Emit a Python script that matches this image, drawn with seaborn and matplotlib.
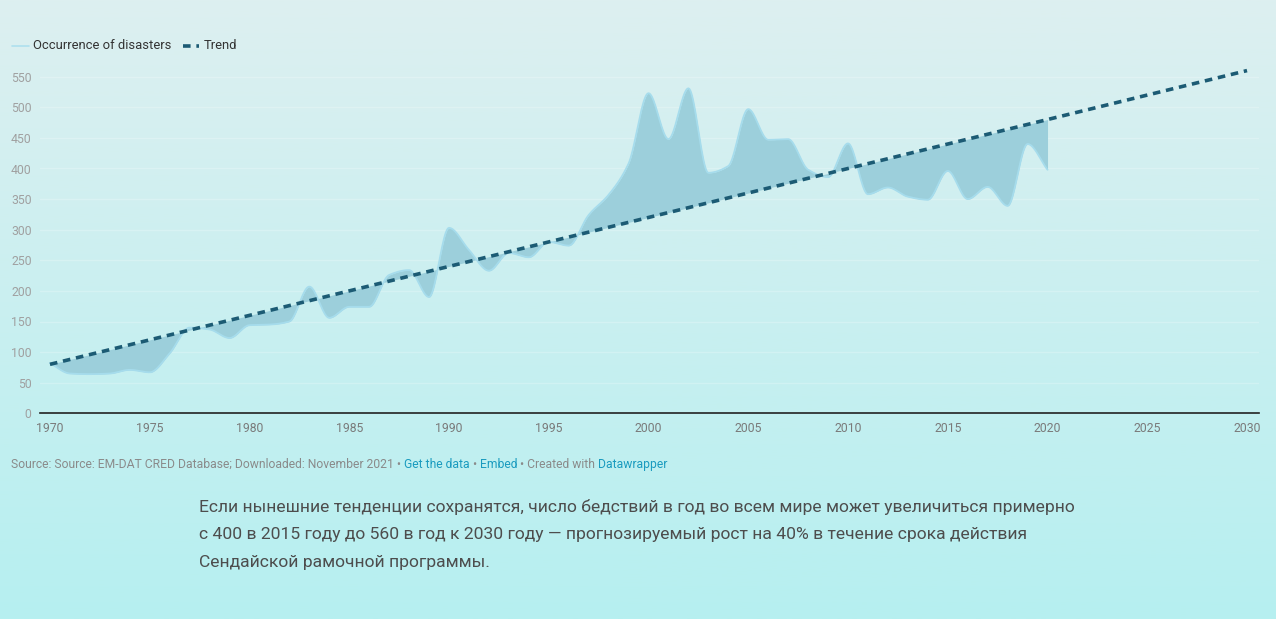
import numpy as np
import matplotlib
matplotlib.use("Agg")
import matplotlib.pyplot as plt
import seaborn as sns
from matplotlib.lines import Line2D

# data
years = list(range(1970, 2021))
disasters = [82, 65, 64, 65, 71, 67, 98, 140, 137, 123,
             144, 145, 150, 207, 156, 174, 174, 226, 234, 190,
             303, 267, 233, 262, 255, 280, 274, 324, 357, 408,
             523, 448, 531, 393, 404, 497, 447, 448, 398, 386,
             441, 358, 369, 354, 349, 396, 350, 370, 339, 440,
             398]
trend_years = [1970, 2030]
trend_values = [80, 560]

x_ticks = list(range(1970, 2031, 5))
y_ticks = list(range(0, 551, 50))

source_parts = [
    ("Source: Source: EM-DAT CRED Database; Downloaded: November 2021 \u2022 ", "#8a8a8a"),
    ("Get the data", "#1a9bbf"),
    (" \u2022 ", "#8a8a8a"),
    ("Embed", "#1a9bbf"),
    (" \u2022 Created with ", "#8a8a8a"),
    ("Datawrapper", "#1a9bbf"),
]
paragraph = [
    "Если нынешние тенденции сохранятся, число бедствий в год во всем мире может увеличиться примерно",
    "с 400 в 2015 году до 560 в год к 2030 году — прогнозируемый рост на 40% в течение срока действия",
    "Сендайской рамочной программы.",
]


def monotone(x, y, n=20):
    # monotone cubic (Fritsch-Carlson) for the smooth curve look
    x = np.asarray(x, float)
    y = np.asarray(y, float)
    h = np.diff(x)
    d = np.diff(y) / h
    m = np.zeros_like(y)
    m[0], m[-1] = d[0], d[-1]
    for i in range(1, len(y) - 1):
        if d[i - 1] * d[i] <= 0:
            m[i] = 0
        else:
            m[i] = 2 / (1 / d[i - 1] + 1 / d[i])
    xs, ys = [], []
    for i in range(len(x) - 1):
        t = np.linspace(0, 1, n, endpoint=False)
        h00 = 2 * t**3 - 3 * t**2 + 1
        h10 = t**3 - 2 * t**2 + t
        h01 = -2 * t**3 + 3 * t**2
        h11 = t**3 - t**2
        xs.append(x[i] + t * h[i])
        ys.append(h00 * y[i] + h10 * h[i] * m[i] + h01 * y[i + 1] + h11 * h[i] * m[i + 1])
    xs.append([x[-1]])
    ys.append([y[-1]])
    return np.concatenate(xs), np.concatenate(ys)


sns.set_theme(style="white")
plt.rcParams["font.family"] = ["Roboto", "DejaVu Sans"]

W, H = 1276, 619
fig = plt.figure(figsize=(W / 100, H / 100), dpi=100)

# gradient background
bg = fig.add_axes([0, 0, 1, 1], zorder=-10)
top = np.array([221, 239, 240]) / 255
bot = np.array([182, 240, 240]) / 255
t = np.linspace(0, 1, 256)[:, None]
grad = (top * (1 - t) + bot * t)[:, None, :]
bg.imshow(grad, aspect="auto", extent=[0, 1, 0, 1])
bg.set_axis_off()

ax = fig.add_axes([40 / W, 1 - 413.3 / H, (1259 - 40) / W, (413.3 - 61.4) / H])
ax.patch.set_alpha(0)

sx, sy = monotone(years, disasters)
st = np.interp(sx, trend_years, trend_values)
ax.fill_between(sx, sy, st, color="#9ccfdb", lw=0, zorder=2)
ax.plot(sx, sy, color="#a6dcec", lw=1.3, zorder=3)

sns.lineplot(x=trend_years, y=trend_values, ax=ax, color="#1c5b74", lw=2.6,
             dashes=False, zorder=4)
ax.lines[-1].set_dashes((2.1, 1.6))

ax.set_xlim(1969.5, 2030.6)
ax.set_ylim(0, 575)
ax.set_xticks(x_ticks)
ax.set_yticks(y_ticks)
ax.yaxis.grid(True, color="white", alpha=0.22, lw=1)
ax.xaxis.grid(False)
for s in ["top", "right", "left"]:
    ax.spines[s].set_visible(False)
ax.spines["bottom"].set_color("#222222")
ax.spines["bottom"].set_linewidth(1.2)
ax.tick_params(axis="y", length=0, pad=6, labelsize=8.8, labelcolor="#a0a0a0")
ax.tick_params(axis="x", length=0, pad=6.5, labelsize=8.8, labelcolor="#7a7a7a")
ax.set_xlabel("")
ax.set_ylabel("")

# legend
fig.add_artist(Line2D([12 / W, 29 / W], [1 - 45.5 / H] * 2, color="#aee0ee", lw=1.2))
fig.text(33 / W, 1 - 45.5 / H, "Occurrence of disasters", fontsize=9.4, color="#333333", va="center")
fig.add_artist(Line2D([183 / W, 199 / W], [1 - 45.5 / H] * 2, color="#1c5b74", lw=2.6,
                      dashes=(2.1, 1.6)))
fig.text(204 / W, 1 - 45.5 / H, "Trend", fontsize=9.4, color="#333333", va="center")

# source line
fig.canvas.draw()
renderer = fig.canvas.get_renderer()
x = 11
for txt, col in source_parts:
    tt = fig.text(x / W, 1 - 464.5 / H, txt, fontsize=8.7, color=col, va="center")
    bb = tt.get_window_extent(renderer)
    x += bb.width

for i, line in enumerate(paragraph):
    fig.text(199 / W, 1 - (507 + 28 * i) / H, line, fontsize=12.6, color="#4d4d4d", va="center")

fig.savefig("out.png", dpi=100)
